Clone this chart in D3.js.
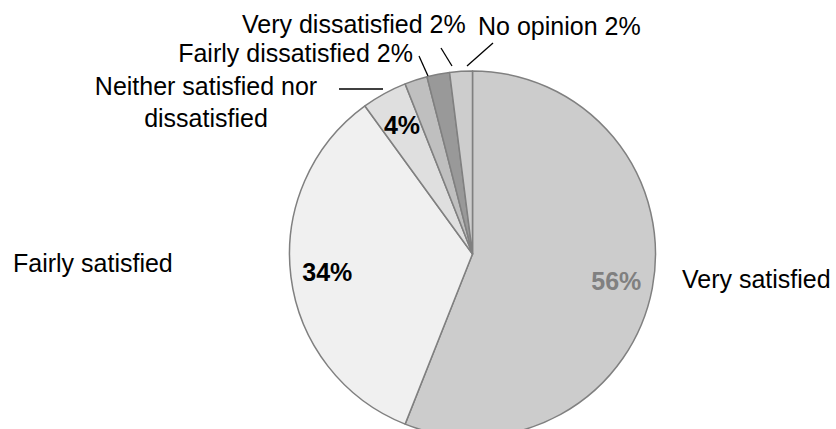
<!DOCTYPE html>
<html>
<head>
<meta charset="utf-8">
<script src="https://cdn.jsdelivr.net/npm/d3@7"></script>
<style>
  html, body { margin: 0; padding: 0; background: #fff; }
  svg { display: block; font-family: "Liberation Sans", Arial, sans-serif; }
</style>
</head>
<body>
<svg id="chart" width="836" height="429"></svg>
<script>
// Satisfaction survey shares (%), clockwise from 12 o'clock
const categories = ["Very satisfied", "Fairly satisfied", "Neither satisfied nor dissatisfied",
                    "Fairly dissatisfied", "Very dissatisfied", "No opinion"];
const shares = [56, 34, 4, 2, 2, 2];
const sliceColors = ["#cccccc", "#f0f0f0", "#dfdfdf", "#bfbfbf", "#999999", "#cdcdcd"];

// Layout of the text around the pie
const cx = 472.5, cy = 254, R = 183;
const outerLabels = {
  "Very satisfied":      { x: 682, y: 288, anchor: "start", lines: ["Very satisfied"] },
  "Fairly satisfied":    { x: 13,  y: 272, anchor: "start", lines: ["Fairly satisfied"] },
  "Neither satisfied nor dissatisfied":
                         { x: 206, y: 95, anchor: "middle", lines: ["Neither satisfied nor", "dissatisfied"],
                           leader: [[339, 89], [383, 89]] },
  "Fairly dissatisfied": { x: 413, y: 62, anchor: "end", withValue: true,
                           leader: [[419, 56], [428, 76]] },
  "Very dissatisfied":   { x: 242, y: 33, anchor: "start", withValue: true,
                           leader: [[441, 48], [452, 66]] },
  "No opinion":          { x: 478, y: 35, anchor: "start", withValue: true,
                           leader: [[493, 43], [467, 66]] }
};
// Slices whose value is printed inside the pie, and in which colour
const innerValueColor = { "Very satisfied": "#808080", "Fairly satisfied": "#000", "Neither satisfied nor dissatisfied": "#000" };

const data = categories.map((c, i) => ({ name: c, value: shares[i], color: sliceColors[i] }));

const svg = d3.select("#chart");
const g = svg.append("g").attr("transform", `translate(${cx},${cy})`);

const pie = d3.pie().sort(null).value(d => d.value).startAngle(0).endAngle(2 * Math.PI);
const arcs = pie(data);
const arc = d3.arc().innerRadius(0).outerRadius(R);
const labelArc = d3.arc().innerRadius(R * 0.8).outerRadius(R * 0.8);

g.selectAll("path.slice")
  .data(arcs)
  .join("path")
  .attr("class", "slice")
  .attr("d", arc)
  .attr("fill", d => d.data.color)
  .attr("stroke", "#808080")
  .attr("stroke-width", 1.5)
  .attr("stroke-linejoin", "round");

// Percentages inside the larger slices
g.selectAll("text.pct")
  .data(arcs.filter(d => d.data.name in innerValueColor))
  .join("text")
  .attr("class", "pct")
  .attr("transform", d => `translate(${labelArc.centroid(d)})`)
  .attr("text-anchor", "middle")
  .attr("dy", "0.35em")
  .attr("font-size", 25)
  .attr("font-weight", "bold")
  .attr("fill", d => innerValueColor[d.data.name])
  .text(d => d.data.value + "%");

// Category labels and leader lines
data.forEach(d => {
  const L = outerLabels[d.name];
  const t = svg.append("text")
    .attr("x", L.x).attr("y", L.y)
    .attr("text-anchor", L.anchor)
    .attr("font-size", 25)
    .attr("fill", "#000");
  const lines = L.lines || [d.name + (L.withValue ? " " + d.value + "%" : "")];
  lines.forEach((s, i) => {
    t.append("tspan").attr("x", L.x).attr("dy", i === 0 ? 0 : 32).text(s);
  });
  if (L.leader) {
    svg.append("line")
      .attr("x1", L.leader[0][0]).attr("y1", L.leader[0][1])
      .attr("x2", L.leader[1][0]).attr("y2", L.leader[1][1])
      .attr("stroke", "#000").attr("stroke-width", 1.3);
  }
});
</script>
</body>
</html>
